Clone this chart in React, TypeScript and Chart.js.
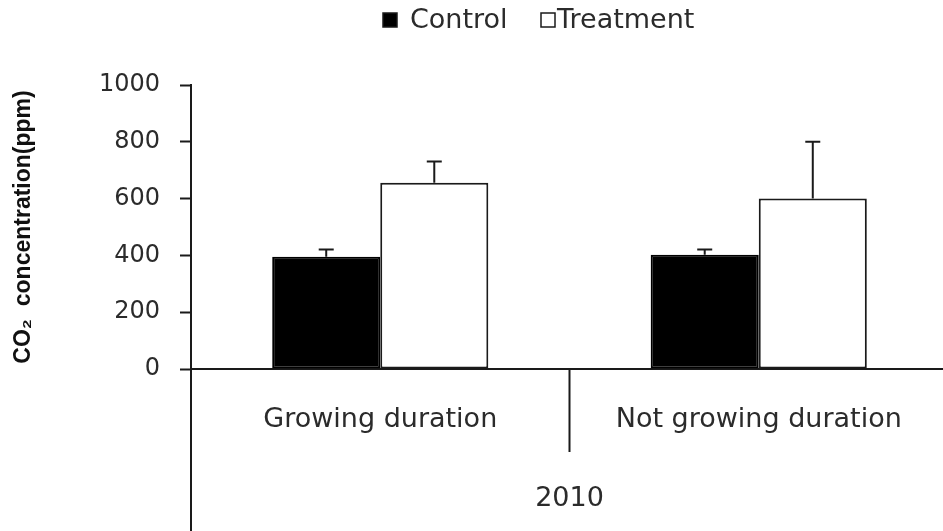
import React, { useEffect, useRef } from "react";
import { Chart, registerables } from "chart.js";

Chart.register(...registerables);

const categories = ["Growing duration", "Not growing duration"];
const groupLabel = "2010";
const seriesNames = ["Control", "Treatment"];
const controlValues = [395, 402];
const controlErrors = [26, 19];
const treatmentValues = [656, 600];
const treatmentErrors = [75, 200];
const yTicks = [0, 200, 400, 600, 800, 1000];
const yTitle = "CO\u2082  concentration(ppm)";

const FONT = "DejaVu Sans";
const INK = "#1a1a1a";
const TEXT = "#2b2b2b";

const errorBarPlugin = {
  id: "errorBars",
  afterDatasetsDraw(chart: any) {
    const ctx = chart.ctx;
    const ys = chart.scales.y;
    chart.data.datasets.forEach((ds: any, di: number) => {
      const meta = chart.getDatasetMeta(di);
      meta.data.forEach((bar: any, i: number) => {
        const v = ds.data[i];
        const e = ds.errors[i];
        const base = ys.getPixelForValue(v);
        const top = ys.getPixelForValue(v + e);
        ctx.save();
        ctx.strokeStyle = INK;
        ctx.lineWidth = 2;
        ctx.beginPath();
        ctx.moveTo(bar.x, base);
        ctx.lineTo(bar.x, top);
        ctx.moveTo(bar.x - 7.5, top);
        ctx.lineTo(bar.x + 7.5, top);
        ctx.stroke();
        ctx.restore();
      });
    });
  },
};

const axisExtrasPlugin = {
  id: "axisExtras",
  afterDraw(chart: any) {
    const ctx = chart.ctx;
    const area = chart.chartArea;
    const xs = chart.scales.x;
    ctx.save();
    ctx.strokeStyle = INK;
    ctx.lineWidth = 2;
    ctx.beginPath();
    // y-axis continues through the category label area
    ctx.moveTo(area.left, area.bottom);
    ctx.lineTo(area.left, chart.height);
    // divider between the two categories
    const mid = xs.getPixelForValue(0.5);
    ctx.moveTo(mid, area.bottom);
    ctx.lineTo(mid, area.bottom + 83);
    ctx.stroke();
    ctx.restore();
  },
};

const legendPlugin = {
  id: "customLegend",
  afterDraw(chart: any) {
    const ctx = chart.ctx;
    const items = [
      { x: 383, textX: 410, ds: chart.data.datasets[0] },
      { x: 541, textX: 557, ds: chart.data.datasets[1] },
    ];
    ctx.save();
    ctx.font = `27px "${FONT}"`;
    ctx.textBaseline = "middle";
    ctx.textAlign = "left";
    items.forEach((it) => {
      ctx.fillStyle = it.ds.backgroundColor;
      ctx.fillRect(it.x, 13, 14, 14);
      ctx.strokeStyle = INK;
      ctx.lineWidth = 1.5;
      ctx.strokeRect(it.x, 13, 14, 14);
      ctx.fillStyle = TEXT;
      ctx.fillText(it.ds.label, it.textX, 21);
    });
    ctx.restore();
  },
};

export default function App() {
  const canvasRef = useRef<HTMLCanvasElement | null>(null);

  useEffect(() => {
    document.body.style.margin = "0";
    document.body.style.overflow = "hidden";
    const canvas = canvasRef.current;
    if (!canvas) return;
    const chart = new Chart(canvas, {
      type: "bar",
      data: {
        labels: categories,
        datasets: [
          {
            label: seriesNames[0],
            data: controlValues,
            errors: controlErrors,
            backgroundColor: "#000",
            borderColor: "#000",
            borderWidth: 2,
            borderSkipped: false,
            barPercentage: 1,
            categoryPercentage: 0.571,
          } as any,
          {
            label: seriesNames[1],
            data: treatmentValues,
            errors: treatmentErrors,
            backgroundColor: "#fff",
            borderColor: INK,
            borderWidth: 2,
            borderSkipped: false,
            barPercentage: 1,
            categoryPercentage: 0.571,
          } as any,
        ],
      },
      options: {
        animation: false,
        responsive: false,
        layout: { padding: { top: 85, right: 12, left: 0, bottom: 0 } },
        plugins: {
          legend: { display: false },
          tooltip: { enabled: false },
        },
        scales: {
          x: {
            offset: true,
            grid: { display: false, drawTicks: false },
            border: { display: true, color: INK, width: 2 },
            ticks: {
              color: TEXT,
              font: { family: FONT, size: 27 },
              padding: 35,
              maxRotation: 0,
              autoSkip: false,
            },
            title: {
              display: true,
              text: groupLabel,
              color: TEXT,
              font: { family: FONT, size: 27 },
              padding: { top: 0, bottom: 16 },
            },
            afterFit: (s: any) => {
              s.height = 162;
            },
          },
          y: {
            min: 0,
            max: 1000,
            afterBuildTicks: (s: any) => {
              s.ticks = yTicks.map((v) => ({ value: v }));
            },
            grid: {
              drawOnChartArea: false,
              drawTicks: true,
              tickLength: 11,
              tickColor: INK,
              tickWidth: 2,
            },
            border: { display: true, color: INK, width: 2 },
            ticks: {
              color: TEXT,
              font: { family: FONT, size: 24 },
              padding: 20,
              callback: (v: any) => String(v),
            },
            title: {
              display: true,
              text: yTitle,
              color: "#111",
              font: { family: "Liberation Sans", weight: "bold", size: 23 },
              padding: { top: 10, bottom: 0 },
            },
            afterFit: (s: any) => {
              s.width = 191;
            },
          },
        },
      } as any,
      plugins: [errorBarPlugin, axisExtrasPlugin, legendPlugin],
    });
    return () => chart.destroy();
  }, []);

  return (
    <div style={{ width: 943, height: 531, overflow: "hidden", background: "#fff" }}>
      <canvas ref={canvasRef} width={960} height={531} />
    </div>
  );
}
